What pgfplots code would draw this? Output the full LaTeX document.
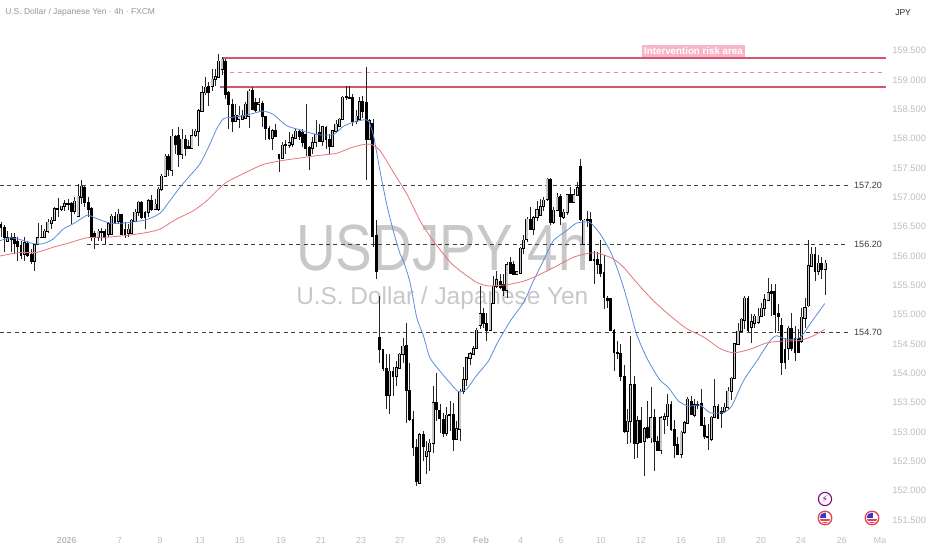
\documentclass[border=0pt]{standalone}
\usepackage{fontspec}
\setmainfont{Liberation Sans}
\newfontfamily\symfont{DejaVu Sans}
\usepackage{pgfplots}
\usepackage{pgfplotstable}
\pgfplotsset{compat=1.18}

\definecolor{tick}{HTML}{BDBDBD}
\definecolor{wm}{HTML}{C8C8C8}
\definecolor{zone}{HTML}{D5566E}
\definecolor{zonel}{HTML}{E58BA2}
\definecolor{tagbg}{HTML}{F7B5CA}
\definecolor{ema}{HTML}{5B8CDB}
\definecolor{sma}{HTML}{E9747C}
\definecolor{lvl}{HTML}{3A3A3A}
\definecolor{flagred}{HTML}{E2454F}

% USDJPY 4h candles, i = bar number
\pgfplotstableread{
i o h l c
0 156.55 156.58 156.32 156.49
1 156.49 156.52 156.06 156.32
2 156.26 156.43 156.23 156.32
3 156.30 156.40 156.06 156.32
4 156.32 156.40 156.04 156.23
5 156.26 156.32 155.92 156.18
6 156.18 156.26 155.95 156.02
7 156.04 156.32 155.92 156.23
8 156.22 156.26 155.98 156.02
9 156.04 156.12 155.86 155.92
10 155.92 156.21 155.75 156.20
11 156.20 156.57 156.18 156.32
12 156.32 156.52 156.30 156.33
13 156.32 156.46 156.32 156.43
14 156.43 156.63 156.40 156.58
15 156.56 156.66 156.46 156.62
16 156.62 156.83 156.60 156.81
17 156.80 156.98 156.66 156.81
18 156.81 156.86 156.77 156.86
19 156.85 156.95 156.77 156.90
20 156.89 156.97 156.79 156.90
21 156.90 156.92 156.55 156.77
22 156.77 157.00 156.72 156.94
23 156.69 157.23 156.66 157.03
24 157.01 157.29 156.89 157.20
25 157.17 157.20 156.83 156.92
26 156.92 157.00 156.66 156.81
27 156.81 156.83 156.26 156.32
28 156.39 156.43 156.12 156.32
29 156.32 156.46 156.26 156.43
30 156.42 156.47 156.26 156.43
31 156.42 156.46 156.18 156.32
32 156.38 156.58 156.32 156.56
33 156.38 156.72 156.35 156.69
34 156.69 156.75 156.55 156.58
35 156.60 156.80 156.55 156.72
36 156.72 156.72 156.35 156.38
37 156.46 156.58 156.31 156.38
38 156.39 156.55 156.32 156.46
39 156.40 156.63 156.39 156.62
40 156.60 156.80 156.58 156.75
41 156.75 156.94 156.69 156.92
42 156.92 156.94 156.63 156.66
43 156.75 156.77 156.46 156.66
44 156.75 156.97 156.66 156.95
45 156.95 157.04 156.77 156.80
46 156.80 156.97 156.78 156.89
47 156.81 157.17 156.77 157.15
48 157.15 157.40 157.11 157.37
49 157.37 157.74 157.35 157.71
50 157.71 157.74 157.37 157.48
51 157.47 158.17 157.37 158.05
52 158.05 158.06 157.74 157.91
53 158.06 158.19 157.51 157.74
54 157.74 158.17 157.65 158.00
55 158.00 158.06 157.71 157.85
56 157.88 157.97 157.85 157.85
57 157.85 158.17 157.83 158.06
58 158.06 158.17 158.02 158.13
59 158.13 158.51 157.88 158.48
60 158.48 158.90 158.48 158.79
61 158.79 159.05 158.75 158.88
62 158.90 158.96 158.56 158.79
63 158.90 159.19 158.82 159.02
64 159.02 159.19 158.90 159.06
65 159.06 159.44 159.05 159.33
66 159.19 159.39 159.08 159.36
67 159.33 159.36 158.68 158.76
68 158.79 158.82 158.17 158.59
69 158.59 158.68 158.11 158.31
70 158.31 158.59 158.31 158.41
71 158.34 158.56 158.18 158.41
72 158.34 158.48 158.31 158.41
73 158.35 158.62 158.34 158.59
74 158.39 158.85 158.18 158.82
75 158.83 158.88 158.48 158.51
76 158.62 158.69 158.45 158.49
77 158.59 158.69 158.45 158.62
78 158.60 158.64 158.19 158.39
79 158.38 158.38 157.98 158.18
80 158.18 158.22 157.97 158.01
81 158.01 158.17 157.81 158.14
82 158.14 158.25 158.02 158.05
83 157.74 157.74 157.43 157.68
84 157.68 157.94 157.65 157.90
85 157.90 157.97 157.74 157.91
86 157.90 158.11 157.84 157.94
87 157.92 158.08 157.85 158.02
88 158.02 158.17 158.02 158.13
89 158.13 158.17 157.97 158.05
90 158.11 158.17 157.85 157.94
91 158.08 158.59 157.71 157.85
92 157.85 157.88 157.47 157.73
93 157.84 158.02 157.74 157.94
94 157.94 158.31 157.85 158.08
95 158.11 158.25 157.94 157.97
96 157.97 158.22 157.88 158.21
97 158.19 158.22 157.83 158.00
98 158.00 158.08 157.74 157.88
99 157.88 158.15 157.88 158.14
100 158.14 158.31 158.11 158.25
101 158.22 158.36 158.22 158.34
102 158.34 158.73 158.34 158.71
103 158.71 158.89 158.65 158.72
104 158.71 158.89 158.68 158.70
105 158.71 158.76 158.22 158.31
106 158.31 158.48 158.25 158.39
107 158.34 158.71 158.31 158.64
108 158.64 158.73 158.36 158.47
109 158.62 159.22 157.29 158.00
110 158.00 158.34 158.00 158.31
111 158.26 158.34 156.15 156.35
112 156.36 156.61 155.61 155.75
113 154.62 155.32 154.18 154.41
114 154.41 154.41 154.04 154.10
115 154.09 154.33 153.39 153.64
116 153.64 154.33 153.30 154.04
117 154.04 154.10 153.62 153.96
118 153.96 154.21 153.79 154.10
119 154.10 154.35 154.07 154.33
120 154.33 154.61 154.18 154.47
121 154.48 154.85 153.16 153.72
122 153.72 154.18 153.19 153.23
123 153.23 153.36 152.59 152.75
124 152.75 152.88 152.08 152.17
125 152.14 152.99 152.14 152.96
126 152.96 153.02 152.51 152.76
127 152.60 152.85 152.28 152.68
128 152.68 152.88 152.34 152.82
129 152.82 153.79 152.65 153.51
130 153.51 154.01 153.19 153.39
131 153.38 153.47 152.99 153.25
132 153.23 153.33 152.91 152.99
133 152.99 153.42 152.93 153.29
134 153.29 153.52 153.02 153.31
135 153.31 153.50 152.67 152.89
136 152.89 153.19 152.88 153.06
137 153.06 153.73 152.85 153.70
138 153.70 154.11 153.64 153.90
139 153.90 154.27 153.79 154.27
140 154.26 154.37 154.15 154.34
141 154.34 154.47 154.33 154.43
142 154.43 154.78 154.41 154.74
143 154.82 155.49 154.75 155.02
144 155.02 155.12 154.78 154.86
145 154.86 155.03 154.55 154.75
146 154.75 155.20 154.72 155.20
147 155.20 155.66 155.18 155.49
148 155.49 155.75 155.46 155.60
149 155.57 155.69 155.43 155.47
150 155.52 155.69 155.32 155.42
151 155.43 155.89 155.29 155.86
152 155.89 155.98 155.69 155.72
153 155.86 155.92 155.69 155.70
154 155.70 155.75 155.67 155.74
155 155.72 156.15 155.69 156.14
156 156.14 156.35 156.04 156.28
157 156.29 156.66 156.23 156.63
158 156.63 156.83 156.46 156.47
159 156.47 156.69 156.35 156.66
160 156.66 156.94 156.60 156.80
161 156.70 156.97 156.69 156.85
162 156.85 157.00 156.77 156.96
163 156.97 157.33 156.94 157.32
164 157.32 157.33 156.53 156.58
165 156.58 156.83 156.55 156.79
166 156.79 157.07 156.77 157.01
167 157.02 157.06 156.53 156.68
168 156.66 156.80 156.63 156.75
169 156.75 157.06 156.69 157.05
170 157.05 157.17 156.90 156.93
171 156.93 157.14 156.92 157.05
172 157.05 157.26 157.03 157.17
173 157.54 157.65 156.60 156.63
174 156.21 156.63 156.21 156.62
175 156.62 156.77 156.49 156.63
176 156.63 156.75 155.92 155.94
177 155.95 156.09 155.52 155.93
178 155.95 156.06 155.69 155.87
179 155.87 156.27 155.64 155.72
180 155.72 156.01 155.10 155.30
181 155.29 155.32 155.12 155.26
182 155.28 155.28 154.72 154.74
183 154.74 154.75 154.04 154.37
184 154.37 154.55 154.24 154.35
185 154.35 154.50 153.87 153.96
186 153.96 154.15 152.99 153.02
187 153.02 153.39 152.79 153.19
188 153.19 154.64 152.82 153.81
189 153.81 153.96 152.54 152.82
190 152.82 153.27 152.56 153.20
191 153.20 153.43 152.82 152.84
192 152.85 153.08 152.25 153.06
193 153.08 153.53 152.88 152.91
194 152.91 153.76 152.82 153.25
195 153.25 153.39 152.34 152.85
196 152.85 152.93 152.68 152.69
197 152.69 153.27 152.63 153.25
198 153.23 153.33 152.96 153.27
199 153.27 153.64 153.10 153.48
200 153.48 153.53 153.02 153.05
201 153.05 153.20 152.56 152.79
202 152.79 152.91 152.61 152.62
203 152.63 153.02 152.56 153.00
204 153.00 153.19 152.97 153.17
205 153.16 153.60 153.13 153.57
206 153.53 153.62 153.29 153.31
207 153.30 153.56 153.25 153.47
208 153.48 153.53 153.39 153.46
209 153.50 153.73 153.13 153.13
210 153.12 153.25 152.88 152.93
211 152.93 153.13 152.69 152.91
212 152.88 153.27 152.85 153.26
213 153.26 153.90 153.25 153.44
214 153.44 153.47 153.22 153.25
215 153.36 153.42 153.06 153.33
216 153.36 153.50 153.32 153.43
217 153.43 153.77 153.39 153.70
218 153.70 153.93 153.54 153.92
219 153.92 154.52 153.90 154.51
220 154.51 154.86 154.50 154.73
221 154.73 154.95 154.72 154.93
222 154.92 155.32 154.75 155.29
223 155.29 155.32 154.71 154.75
224 154.79 155.01 154.52 154.89
225 154.86 155.01 154.78 154.98
226 154.88 155.12 154.84 154.98
227 154.98 155.20 154.96 155.12
228 155.12 155.35 154.98 155.26
229 155.26 155.62 155.23 155.38
230 155.38 155.52 154.98 155.40
231 155.40 155.52 154.69 155.01
232 155.02 155.18 154.72 154.98
233 154.82 154.94 153.98 154.20
234 154.41 154.61 154.07 154.20
235 154.43 154.81 154.22 154.78
236 154.78 155.02 154.38 154.43
237 154.61 154.81 154.21 154.37
238 154.61 154.75 154.37 154.37
239 154.55 155.12 154.52 154.96
240 154.95 155.29 154.78 155.13
241 155.16 156.27 155.13 155.84
242 155.84 156.15 155.84 156.04
243 156.04 156.16 155.58 155.74
244 155.75 156.01 155.67 155.88
245 155.88 155.98 155.61 155.78
246 155.78 155.93 155.34 155.88
}\candles

\begin{document}
\begin{tikzpicture}
% watermark sits under the candles
\begin{scope}[x=0.75pt,y=-0.75pt,yshift=412.5pt]
\node[anchor=west,inner sep=0pt,text=wm] at (296,247) {\fontsize{49}{50}\selectfont\scalebox{0.84}[1]{USDJPY 4h}};
\node[anchor=west,inner sep=0pt,text=wm] at (296,298) {\fontsize{18.3}{20}\selectfont U.S. Dollar / Japanese Yen};
\end{scope}

\begin{axis}[
    at={(0pt,0pt)},anchor=south west,
    scale only axis,
    width=699pt,height=412.5pt,
    xmin=-0.2985,xmax=277.91,
    ymin=150.989,ymax=160.363,
    axis line style={draw=none},
    major tick style={draw=none},
    major tick length=0pt,
    unbounded coords=discard,
    xtick={19.6,35.4,47.5,59.4,71.3,83.6,95.5,107.5,119.1,131.3,143.3,155.2,167.2,179.1,191,203,214.9,226.9,238.8,251,262.4},
    xticklabels={\textbf{2026},7,9,13,15,19,21,23,27,29,\textbf{Feb},4,6,10,12,16,18,20,24,26,Ma},
    xticklabel style={anchor=center,yshift=7.5pt,inner sep=0pt,text=tick,font=\fontsize{6.6}{8}\selectfont,text height=5pt,text depth=0pt},
    ytick={151.5,152,...,159.5},
    yticklabel pos=right,
    yticklabel style={anchor=west,xshift=-30pt,inner sep=0pt,text=tick,font=\fontsize{7}{8}\selectfont,
      /pgf/number format/.cd,fixed,fixed zerofill,precision=3,assume math mode=true},
]
% levels
\addplot[black!75,line width=0.6pt,dash pattern=on 3pt off 2.6pt] coordinates {(-0.3,157.2) (252.8,157.2)};
\addplot[black!75,line width=0.6pt,dash pattern=on 3pt off 2.6pt] coordinates {(25.7,156.2) (252.8,156.2)};
\addplot[black!75,line width=0.6pt,dash pattern=on 3pt off 2.6pt] coordinates {(-0.3,154.7) (252.8,154.7)};
% intervention zone
\addplot[zone,line width=1.4pt] coordinates {(66,159.38) (264.2,159.38)};
\addplot[zone,line width=1.4pt] coordinates {(65.4,158.885) (264.2,158.885)};
\addplot[zonel,line width=0.7pt,dash pattern=on 3pt off 3pt] coordinates {(66,159.13) (264.2,159.13)};

% wicks
\addplot[draw=none,mark=none,error bars/.cd,y dir=both,y explicit,error mark=none,
    error bar style={draw=black!85,solid,line width=0.5pt}]
  table[x=i,y=c,y error plus expr=\thisrow{h}-\thisrow{c},y error minus expr=\thisrow{c}-\thisrow{l}] {\candles};
% down bodies, hanging from the open
\addplot[draw=none,mark=none,error bars/.cd,y dir=minus,y explicit,error mark=none,
    error bar style={draw=black,line width=2.1pt}]
  table[x expr={\thisrow{c}<\thisrow{o} ? \thisrow{i} : nan},y=o,
        y error minus expr={\thisrow{o}-\thisrow{c}+0.02}] {\candles};
% up bodies: dark outline, pale core
\addplot[draw=none,mark=none,error bars/.cd,y dir=minus,y explicit,error mark=none,
    error bar style={draw=black,line width=2.3pt}]
  table[x expr={\thisrow{c}<\thisrow{o} ? nan : \thisrow{i}},y=c,
        y error minus expr={\thisrow{c}-\thisrow{o}+0.02}] {\candles};
\addplot[draw=none,mark=none,error bars/.cd,y dir=minus,y explicit,error mark=none,
    error bar style={draw=black!22,line width=1pt}]
  table[x expr={\thisrow{c}-\thisrow{o}<0.03 ? nan : \thisrow{i}},y expr={\thisrow{c}-0.008},
        y error minus expr={\thisrow{c}-\thisrow{o}-0.004}] {\candles};

% moving averages
\addplot[ema,line width=0.6pt,smooth,tension=0.4] coordinates {
(-0.3,156.26) (2.7,156.31) (5.7,156.28) (9.7,156.21) (12.6,156.21) (15.6,156.29) (18.6,156.46)
(21.6,156.55) (24.6,156.66) (26,156.70) (28,156.65) (32.5,156.56) (36.5,156.56) (39.5,156.58)
(43.5,156.62) (47.5,156.73) (50.4,156.94) (53.4,157.17) (56.4,157.37) (59.4,157.57) (62.4,157.91)
(64.4,158.17) (66.4,158.34) (68.4,158.36) (71.3,158.38) (75.3,158.43) (78.3,158.47) (81.3,158.41)
(85.3,158.22) (89.3,158.15) (94.2,158.07) (99.2,158.07) (102.2,158.21) (105.2,158.28) (108.2,158.32)
(109.7,158.30) (111.2,158.05) (113.1,157.46) (115.1,156.89) (117.1,156.43) (119.1,156.04) (120.1,155.92)
(122.1,155.55) (124.1,154.95) (126.1,154.64) (128,154.27) (131,154.04) (134,153.84) (136.5,153.69)
(139,153.73) (141.9,153.96) (145.5,154.21) (148,154.50) (152,154.89) (156,155.21) (158.9,155.57)
(161.9,155.92) (164.9,156.26) (168.8,156.43) (171.8,156.56) (175.8,156.57) (178.8,156.38) (181.8,156.09)
(183.8,155.81) (185.8,155.47) (187.8,155.07) (189.7,154.67) (192.7,154.27) (196.5,153.90) (199.2,153.76)
(202.2,153.53) (205.2,153.44) (208.7,153.46) (211.6,153.33) (215.6,153.33) (218.1,153.44) (221.6,153.87)
(225.6,154.21) (229.5,154.55) (231.5,154.64) (234.5,154.58) (238.5,154.61) (241.5,154.84) (245.9,155.19)};
\addplot[sma,line width=0.6pt,smooth,tension=0.4] coordinates {
(-0.3,156.00) (5.7,156.06) (10.6,156.06) (15.6,156.15) (19.6,156.21) (25.6,156.31) (31.5,156.32)
(37.5,156.35) (43.5,156.40) (47.5,156.46) (52.4,156.63) (57.4,156.77) (61.4,156.94) (64.4,157.11)
(67.4,157.26) (73.3,157.43) (78.3,157.56) (84.3,157.63) (89.3,157.67) (94.2,157.71) (100.2,157.75)
(104.2,157.84) (108.2,157.90) (110.6,157.90) (113.1,157.80) (117.1,157.43) (121.1,157.06) (125.1,156.60)
(129,156.26) (134,155.90) (137,155.75) (142,155.55) (145.5,155.49) (151,155.51) (156,155.57)
(159.9,155.66) (164.9,155.80) (170.9,155.98) (175.8,156.05) (178.8,156.04) (182.8,155.95) (185.8,155.81)
(189.7,155.55) (194.7,155.24) (199.8,154.98) (204.7,154.76) (209.7,154.62) (214.7,154.42) (218.7,154.35)
(223.6,154.41) (228.6,154.52) (233.5,154.55) (238.5,154.56) (242.5,154.64) (245.9,154.75)};

% level labels and zone tag
\node[anchor=west,inner sep=0pt,text=lvl,font=\fontsize{6.8}{8}\selectfont] at (axis cs:254.6,157.2) {157.20};
\node[anchor=west,inner sep=0pt,text=lvl,font=\fontsize{6.8}{8}\selectfont] at (axis cs:254.6,156.2) {156.20};
\node[anchor=west,inner sep=0pt,text=lvl,font=\fontsize{6.8}{8}\selectfont] at (axis cs:254.6,154.7) {154.70};
\node[fill=tagbg,text=white,inner xsep=1.5pt,inner ysep=1.9pt,font=\fontsize{7.3}{8}\selectfont\bfseries] at (axis cs:206.7,159.50) {Intervention risk area};
\end{axis}

\begin{scope}[x=0.75pt,y=-0.75pt,yshift=412.5pt]
\node[anchor=west,inner sep=0pt,text=black!42,font=\fontsize{6.35}{8}\selectfont] at (5,12.5) {U.S. Dollar / Japanese Yen · 4h · FXCM};
\node[anchor=west,inner sep=0pt,text=black!85,font=\fontsize{6.4}{8}\selectfont] at (895,12.5) {JPY};
% event icons
\draw[violet,line width=0.8pt,fill=white] (825,499) circle (6.6);
\node[text=violet,inner sep=0pt,font=\fontsize{7}{8}\selectfont\symfont] at (825,499) {⚡};
\foreach \cx in {825,872}{
  \draw[flagred,line width=1pt,fill=white] (\cx,518) circle (6.8);
  \begin{scope}
    \clip (\cx,518) circle (5.4);
    \fill[flagred] (\cx-6,519) rectangle (\cx+6,520.5);
    \fill[flagred] (\cx-6,522) rectangle (\cx+6,524);
    \fill[blue!55!gray] (\cx-6,512) rectangle (\cx+1,518);
  \end{scope}
}
\end{scope}
\pgfresetboundingbox
\path[use as bounding box] (0,0) rectangle (699pt,412.5pt);
\end{tikzpicture}
\end{document}
